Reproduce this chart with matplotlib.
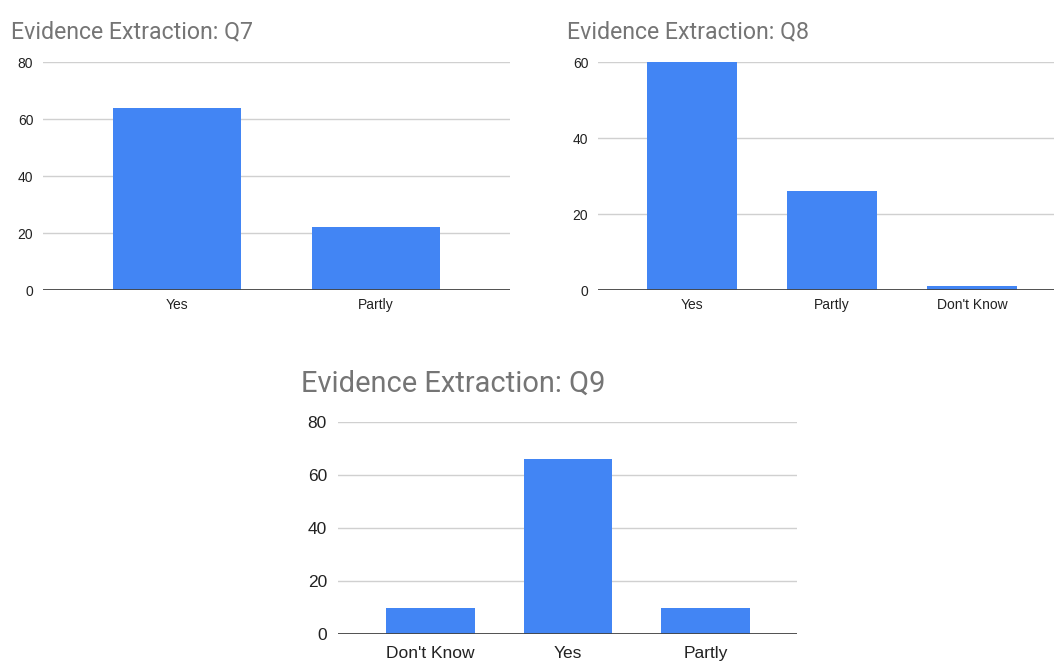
import matplotlib.pyplot as plt

plt.rcParams['font.family'] = ['Roboto', 'DejaVu Sans']

BLUE = '#4285f4'
GRID = '#d0d0d0'
TITLE_COLOR = '#757575'
TEXT_COLOR = '#222222'
TICK_FONT = ['Liberation Sans', 'DejaVu Sans']

# Q7 responses
q7_labels = ['Yes', 'Partly']
q7_counts = [64, 22]

# Q8 responses
q8_labels = ['Yes', 'Partly', "Don't Know"]
q8_counts = [60, 26, 1]

# Q9 responses
q9_labels = ["Don't Know", 'Yes', 'Partly']
q9_counts = [10, 66, 10]


def bar_panel(ax, labels, counts, ymax, xmax, tick_size, label_pad):
    x = list(range(len(labels)))
    ax.bar(x, counts, width=0.645, color=BLUE, zorder=3)
    ax.set_xlim(-0.672, xmax)
    ax.set_ylim(0, ymax)
    ax.set_yticks(range(0, ymax + 1, 20))
    ax.set_xticks(x)
    ax.set_xticklabels(labels)
    ax.grid(axis='y', color=GRID, linewidth=1, zorder=0)
    ax.axhline(0, color='#444444', linewidth=1.3, zorder=4)
    for s in ax.spines.values():
        s.set_visible(False)
    ax.tick_params(axis='both', length=0, labelsize=tick_size, colors=TEXT_COLOR)
    ax.tick_params(axis='y', pad=label_pad[0])
    ax.tick_params(axis='x', pad=label_pad[1])
    for t in ax.get_xticklabels() + ax.get_yticklabels():
        t.set_family(TICK_FONT)


fig = plt.figure(figsize=(10.54, 6.62), dpi=100)

ax7 = fig.add_axes([0.0408, 0.5619, 0.4431, 0.3444])
bar_panel(ax7, q7_labels, q7_counts, 80, 1.673, 10, (7, 6))
fig.text(11 / 1054, 1 - 38 / 662, 'Evidence Extraction: Q7', fontsize=16.7,
         color=TITLE_COLOR, ha='left', va='baseline')

ax8 = fig.add_axes([0.5674, 0.5619, 0.4326, 0.3444])
bar_panel(ax8, q8_labels, q8_counts, 60, 2.586, 10, (7, 6))
fig.text(567 / 1054, 1 - 38 / 662, 'Evidence Extraction: Q8', fontsize=16.7,
         color=TITLE_COLOR, ha='left', va='baseline')

ax9 = fig.add_axes([0.3207, 0.0423, 0.4355, 0.3202])
bar_panel(ax9, q9_labels, q9_counts, 80, 2.665, 12.5, (8, 8.5))
fig.text(301 / 1054, 1 - 392 / 662, 'Evidence Extraction: Q9', fontsize=20.9,
         color=TITLE_COLOR, ha='left', va='baseline')

fig.savefig('out.png', dpi=100, facecolor='white')
